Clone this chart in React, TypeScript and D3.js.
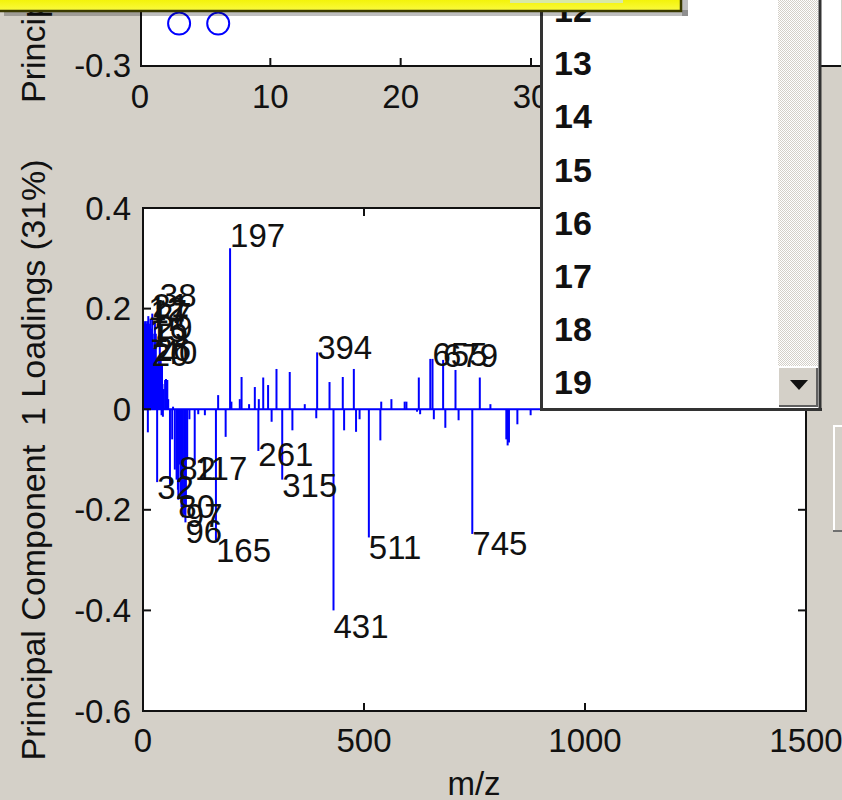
import React from "react";
import * as d3 from "d3";

// ---------- DATA ----------
// Bottom plot: PC1 loadings per m/z (stem plot)
const mzValues = [
  1, 2, 3, 4, 5, 6, 7, 8, 9, 10, 11, 12, 13, 14, 15, 16, 17, 18, 19, 20,
  21, 22, 23, 24, 25, 26, 27, 28, 29, 30, 31, 32, 33, 35, 36, 38, 39, 40, 41, 42,
  43, 44, 45, 47, 50, 52, 55, 57, 61, 66, 68, 72, 76, 79, 80, 82, 85, 87, 89, 90,
  93, 96, 97, 100, 105, 117, 125, 140, 165, 170, 187, 197, 200, 219, 223, 240, 253, 261, 262, 272,
  283, 291, 302, 315, 332, 338, 366, 392, 394, 422, 431, 452, 455, 477, 482, 490, 511, 537, 539, 562,
  592, 596, 620, 624, 627, 650, 655, 658, 679, 684, 707, 714, 745, 762, 786, 822, 825, 828, 847, 877,
];
const loadings = [
  0.17, 0.175, 0.16, 0.17, 0.15, 0.175, 0.165, 0.17, 0.16, 0.175, -0.046, 0.185, 0.165, 0.14, 0.145, 0.17, 0.18, 0.16, 0.135, 0.1,
  0.19, 0.15, 0.12, 0.09, 0.1, 0.11, 0.175, 0.08, 0.15, 0.09, 0.07, -0.145, 0.09, 0.1, 0.06, 0.21, 0.08, 0.105, 0.07, -0.012,
  0.09, 0.05, -0.015, 0.04, 0.058, 0.06, 0.058, 0.02, -0.15, -0.06, 0.005, -0.12, -0.14, -0.16, -0.18, -0.11, -0.17, -0.195, -0.2, -0.215,
  -0.21, -0.225, -0.195, -0.1, -0.02, -0.11, -0.01, -0.012, -0.26, 0.028, -0.055, 0.32, 0.015, 0.02, 0.064, 0.01, 0.044, -0.083, 0.02, 0.063,
  0.048, -0.025, 0.08, -0.14, 0.074, -0.042, 0.01, -0.018, 0.113, 0.054, -0.4, 0.064, -0.042, 0.08, -0.045, -0.02, -0.255, -0.062, 0.015, 0.02,
  0.015, 0.015, -0.005, 0.063, -0.01, 0.1, 0.1, -0.02, 0.098, -0.037, 0.078, -0.022, -0.248, 0.063, 0.01, -0.06, -0.072, -0.066, -0.03, -0.012,
];
const labeledMz = [
  38, 12, 17, 21, 27, 15, 29, 19, 20, 26, 40,
  32, 82, 117, 80, 97, 96, 165, 197, 261, 315, 394, 431, 511, 655, 679, 745,
];

const xTicksBottom = [0, 500, 1000, 1500];
const yTicksBottom = [0.4, 0.2, 0, -0.2, -0.4, -0.6];
const yTickLabelsBottom = ["0.4", "0.2", "0", "-0.2", "-0.4", "-0.6"];

// Top plot: scores (only a fragment is visible)
const sampleIdx = [3, 6];
const scores = [-0.26, -0.26];
const xTicksTop = [0, 10, 20, 30];

// List box items (visible part)
const listItems = ["12", "13", "14", "15", "16", "17", "18", "19"];

const FONT = "'Liberation Sans', Arial, Helvetica, sans-serif";
const BG = "#d4d0c8";

export default function App() {
  const W = 842, H = 800;
  // bottom axes
  const xB = d3.scaleLinear().domain([0, 1500]).range([143, 806]);
  const yB = d3.scaleLinear().domain([-0.6, 0.4]).range([711, 208]);
  // top axes
  const xT = d3.scaleLinear().domain([0, 30]).range([140, 531]);
  const yT = d3.scaleLinear().domain([-0.3, -0.2]).range([66, -40]);

  const stems = mzValues.map((m, i) => ({ m, v: loadings[i] }));
  const labels = labeledMz.map((m) => ({ m, v: loadings[mzValues.indexOf(m)] }));

  const listY0 = 10, listPitch = 53.2;

  return (
    <svg width={W} height={H} style={{ position: "absolute", left: 0, top: 0 }} fontFamily={FONT}>
      <defs>
        <pattern id="chk" width="2" height="2" patternUnits="userSpaceOnUse">
          <rect width="2" height="2" fill="#ffffff" />
          <rect width="1" height="1" fill={BG} />
          <rect x="1" y="1" width="1" height="1" fill={BG} />
        </pattern>
        <linearGradient id="yel" x1="0" y1="0" x2="0" y2="1">
          <stop offset="0" stopColor="#f2f200" />
          <stop offset="1" stopColor="#fafa40" />
        </linearGradient>
        <clipPath id="clipB">
          <rect x={143} y={208} width={663} height={503} />
        </clipPath>
        <clipPath id="clipT">
          <rect x={141} y={-100} width={700} height={166} />
        </clipPath>
      </defs>
      <rect width={W} height={H} fill={BG} />

      {/* ---------- TOP AXES ---------- */}
      <rect x={141} y={-10} width={700} height={76} fill="#fff" />
      <g clipPath="url(#clipT)">
        {sampleIdx.map((s, i) => (
          <circle key={i} cx={xT(s)} cy={yT(scores[i])} r={11} fill="none" stroke="#0000ff" strokeWidth={2} />
        ))}
      </g>
      <line x1={141} x2={841} y1={66} y2={66} stroke="#111" strokeWidth={2} />
      <line x1={141} x2={141} y1={-10} y2={67} stroke="#111" strokeWidth={2} />
      {xTicksTop.slice(1).map((t) => (
        <line key={t} x1={xT(t)} x2={xT(t)} y1={66} y2={58} stroke="#111" strokeWidth={2} />
      ))}
      {xTicksTop.map((t) => (
        <text key={t} x={xT(t)} y={96} fontSize={33} textAnchor="middle" dominantBaseline="central" fill="#111">
          {t}
        </text>
      ))}
      <text x={131} y={65} fontSize={33} textAnchor="end" dominantBaseline="central" fill="#111">-0.3</text>
      <text transform="translate(33,103) rotate(-90)" fontSize={34} textAnchor="start" dominantBaseline="central" fill="#111">
        {"Principal Component \u00a02 Scores"}
      </text>

      {/* ---------- BOTTOM AXES ---------- */}
      <rect x={143} y={208} width={663} height={503} fill="#fff" />
      <g clipPath="url(#clipB)">
        <line x1={xB(0)} x2={xB(1500)} y1={yB(0)} y2={yB(0)} stroke="#0000ff" strokeWidth={2} />
        {stems.map((d, i) => (
          <line key={i} x1={xB(d.m)} x2={xB(d.m)} y1={yB(0)} y2={yB(d.v)} stroke="#0000ff" strokeWidth={2} />
        ))}
      </g>
      {labels.map((d, i) => (
        <text key={i} x={xB(d.m)} y={yB(d.v * 1.08)} fontSize={33} dominantBaseline="central" fill="#111">
          {d.m}
        </text>
      ))}
      <rect x={143} y={208} width={663} height={503} fill="none" stroke="#111" strokeWidth={2} />
      {yTicksBottom.map((t) => (
        <g key={t}>
          <line x1={143} x2={151} y1={yB(t)} y2={yB(t)} stroke="#111" strokeWidth={2} />
          <line x1={806} x2={798} y1={yB(t)} y2={yB(t)} stroke="#111" strokeWidth={2} />
        </g>
      ))}
      {xTicksBottom.slice(1, 3).map((t) => (
        <g key={t}>
          <line x1={xB(t)} x2={xB(t)} y1={711} y2={703} stroke="#111" strokeWidth={2} />
          <line x1={xB(t)} x2={xB(t)} y1={208} y2={216} stroke="#111" strokeWidth={2} />
        </g>
      ))}
      {yTicksBottom.map((t, i) => (
        <text key={t} x={131} y={yB(t)} fontSize={33} textAnchor="end" dominantBaseline="central" fill="#111">
          {yTickLabelsBottom[i]}
        </text>
      ))}
      {xTicksBottom.map((t) => (
        <text key={t} x={xB(t)} y={740} fontSize={33} textAnchor="middle" dominantBaseline="central" fill="#111">
          {t}
        </text>
      ))}
      <text x={474} y={783} fontSize={33} textAnchor="middle" dominantBaseline="central" fill="#111">m/z</text>
      <text transform="translate(33,460) rotate(-90)" fontSize={34} textAnchor="middle" dominantBaseline="central" fill="#111">
        {"Principal Component \u00a01 Loadings (31%)"}
      </text>

      {/* ---------- LIST BOX ---------- */}
      <rect x={541} y={-5} width={280} height={415} fill="#fff" />
      {listItems.map((s, i) => (
        <text key={s} x={554} y={listY0 + i * listPitch} fontSize={34} fontWeight="bold" dominantBaseline="central" fill="#111">
          {s}
        </text>
      ))}
      <rect x={778} y={-5} width={40} height={372} fill="url(#chk)" />
      {/* scroll down button */}
      <rect x={778} y={367} width={40} height={40} fill={BG} />
      <path d="M778,407 V367 H818" fill="none" stroke="#ffffff" strokeWidth={2} />
      <path d="M779,406 H817 V368" fill="none" stroke="#606060" strokeWidth={2} />
      <path d="M790,380 H808 L799,390 Z" fill="#111" />
      <line x1={541.5} x2={541.5} y1={-5} y2={410} stroke="#333" strokeWidth={3} />
      <line x1={540} x2={822} y1={409.5} y2={409.5} stroke="#333" strokeWidth={3} />
      <line x1={820} x2={820} y1={-5} y2={411} stroke="#333" strokeWidth={3} />

      {/* button fragment at right */}
      <rect x={833} y={425} width={20} height={107} fill={BG} />
      <path d="M834,532 V426 H850" fill="none" stroke="#ffffff" strokeWidth={2} />
      <line x1={833} x2={850} y1={531} y2={531} stroke="#707070" strokeWidth={2} />

      {/* ---------- YELLOW BOX ---------- */}
      <rect x={4} y={10} width={684} height={6} fill="#000" opacity={0.25} />
      <rect x={682} y={0} width={6} height={16} fill="#000" opacity={0.25} />
      <rect x={-2} y={-2} width={683} height={13} fill="url(#yel)" stroke="#3a3a00" strokeWidth={2.5} />
      <rect x={510} y={0} width={113} height={3} fill="#d8e8a8" />
    </svg>
  );
}
